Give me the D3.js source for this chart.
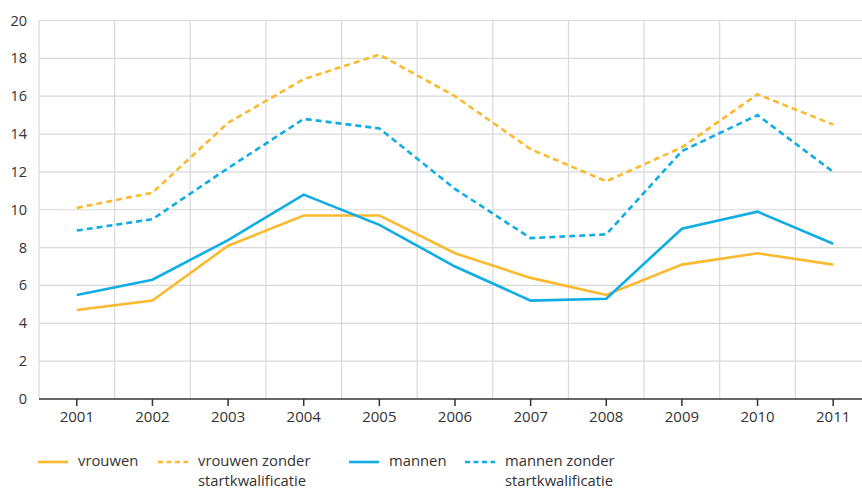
<!doctype html>
<html lang="nl">
<head>
<meta charset="UTF-8" />
<title>Startkwalificatie</title>
<script src="https://cdn.jsdelivr.net/npm/d3@7"></script>
<style>
  body { margin: 0; background: #fff; }
  svg text { font-family: "Open Sans", "Noto Sans", sans-serif; fill: #333; }
</style>
</head>
<body>
<svg id="chart" width="862" height="490"></svg>
<script>
  const years = ["2001","2002","2003","2004","2005","2006","2007","2008","2009","2010","2011"];
  const vrouwen = [4.7, 5.2, 8.1, 9.7, 9.7, 7.7, 6.4, 5.5, 7.1, 7.7, 7.1];
  const vrouwenZonder = [10.1, 10.9, 14.6, 16.9, 18.2, 16.0, 13.2, 11.5, 13.3, 16.1, 14.5];
  const mannen = [5.5, 6.3, 8.4, 10.8, 9.2, 7.0, 5.2, 5.3, 9.0, 9.9, 8.2];
  const mannenZonder = [8.9, 9.5, 12.2, 14.8, 14.3, 11.1, 8.5, 8.7, 13.1, 15.0, 12.0];
  const yTicks = [0, 2, 4, 6, 8, 10, 12, 14, 16, 18, 20];

  const orange = "#fbb92e", blue = "#10ade4";
  const series = [
    { name: ["vrouwen"], values: vrouwen, color: orange, dash: null, lx: 38 },
    { name: ["vrouwen zonder", "startkwalificatie"], values: vrouwenZonder, color: orange, dash: "6,4", lx: 158 },
    { name: ["mannen"], values: mannen, color: blue, dash: null, lx: 349 },
    { name: ["mannen zonder", "startkwalificatie"], values: mannenZonder, color: blue, dash: "6,4", lx: 465 }
  ];

  const svg = d3.select("#chart");
  const mLeft = 39, mRight = 871, mTop = 20.5, mBottom = 399;

  const x = d3.scaleBand().domain(years).range([mLeft, mRight]);
  const y = d3.scaleLinear().domain([0, 20]).range([mBottom, mTop]);
  const cx = d => x(d) + x.bandwidth() / 2;

  // grid
  const grid = svg.append("g");
  grid.selectAll(".h").data(yTicks.slice(1)).join("line")
    .attr("x1", mLeft).attr("x2", 862)
    .attr("y1", d => y(d)).attr("y2", d => y(d))
    .attr("stroke", "#d9d9d9").attr("stroke-width", 1.2);
  grid.selectAll(".v").data(years).join("line")
    .attr("x1", d => x(d)).attr("x2", d => x(d))
    .attr("y1", mTop).attr("y2", mBottom)
    .attr("stroke", "#d9d9d9").attr("stroke-width", 1.2);

  // y labels
  svg.append("g").selectAll("text").data(yTicks).join("text")
    .attr("x", 27).attr("y", d => y(d) + 5)
    .attr("text-anchor", "end").attr("font-size", 14.5)
    .text(d => d);

  // x axis
  const xAxis = svg.append("g").attr("transform", `translate(0,${mBottom})`)
    .call(d3.axisBottom(x).tickSize(7).tickSizeOuter(0).tickPadding(5));
  xAxis.select(".domain").attr("stroke", "#333").attr("stroke-width", 1.5)
    .attr("d", `M${mLeft},0H862`);
  xAxis.selectAll(".tick line").attr("stroke", "#333").attr("stroke-width", 1.5);
  xAxis.selectAll(".tick text").attr("font-size", 15)
    .attr("font-family", "\"Open Sans\", \"Noto Sans\", sans-serif").attr("fill", "#333");

  // lines
  const line = d3.line().x((d, i) => cx(years[i])).y(d => y(d));
  series.forEach(s => {
    svg.append("path").datum(s.values)
      .attr("d", line)
      .attr("fill", "none")
      .attr("stroke", s.color)
      .attr("stroke-width", 2.6)
      .attr("stroke-dasharray", s.dash);
  });

  // legend
  const lg = svg.append("g");
  series.forEach(s => {
    lg.append("line")
      .attr("x1", s.lx).attr("x2", s.lx + 30)
      .attr("y1", 462).attr("y2", 462)
      .attr("stroke", s.color).attr("stroke-width", 2.6)
      .attr("stroke-dasharray", s.dash ? "5,3.5" : null);
    s.name.forEach((t, j) => {
      lg.append("text")
        .attr("x", s.lx + 40).attr("y", 466 + j * 19.5)
        .attr("font-size", 14.8)
        .text(t);
    });
  });
</script>
</body>
</html>
